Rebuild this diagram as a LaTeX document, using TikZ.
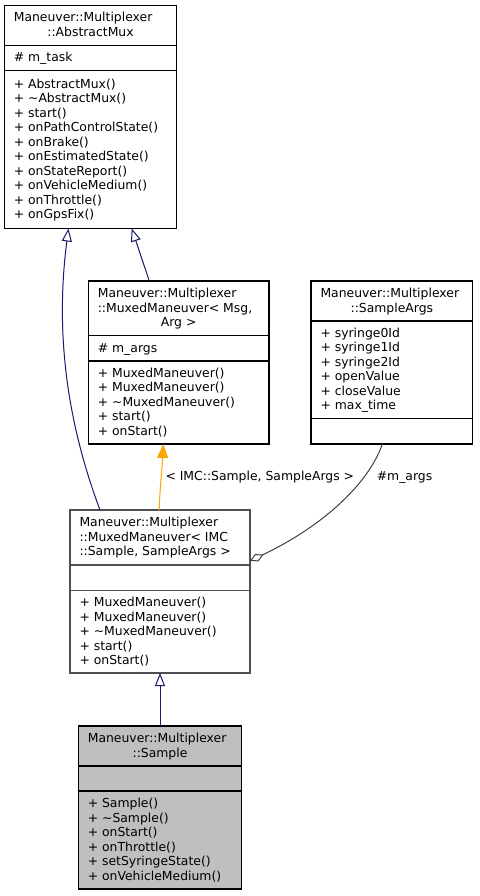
\documentclass[tikz,border=0pt]{standalone}
\usepackage{fontspec}
\setmainfont{DejaVu Sans}
\usetikzlibrary{arrows.meta}
\definecolor{navyedge}{RGB}{25,25,112}
\definecolor{orangeedge}{RGB}{255,165,0}
\definecolor{usageedge}{RGB}{64,64,64}
\definecolor{grayfill}{RGB}{191,191,191}
\definecolor{grayborder}{RGB}{80,80,80}
\newcommand{\mlines}[1]{\begin{tabular}[t]{@{}l@{}}#1\end{tabular}}
\begin{document}
\begin{tikzpicture}[x=1pt,y=-1pt,
  sec/.style={draw=black, line width=1.1pt, fill=white, rectangle, inner sep=0pt, outer sep=0pt, anchor=north west},
  graysec/.style={sec, draw=grayborder},
  hisec/.style={sec, fill=grayfill},
  txt/.style={inner sep=0pt, outer sep=0pt, font=\fontsize{12.4}{14.5}\selectfont},
  lt/.style={txt, anchor=base west},
  ct/.style={txt, anchor=base},
  inherit/.style={draw=navyedge, line width=1pt, -{Triangle[open, length=13pt, width=10pt]}},
  templ/.style={draw=orangeedge, line width=1pt, -{Triangle[length=14pt, width=11pt, fill=orangeedge]}},
  usage/.style={draw=usageedge, line width=1pt, -{Diamond[open, length=15pt, width=8pt, fill=white]}},
  elabel/.style={txt, anchor=base west}]
\useasboundingbox (0,0) rectangle (479,896);
\fill[white] (0,0) rectangle (479,896);

% ---- Box 1: AbstractMux
\node[sec, minimum width=172.4pt, minimum height=39.8pt] (b1t) at (4.3,5.5) {};
\node[sec, minimum width=172.4pt, minimum height=25.5pt] (b1a) at (4.3,45.3) {};
\node[sec, minimum width=172.4pt, minimum height=157.7pt] (b1m) at (4.3,70.8) {};
\node[lt] (b1t1) at (13.8,21.95) {Maneuver::Multiplexer};
\node[ct] (b1t2) at (90.5,36.45) {::AbstractMux};
\node[lt] (b1a1) at (13.8,61.85) {\# m\_task};
\node[lt] (b1m1) at (13.8,88.2) {\mlines{+ AbstractMux()\\+ \textasciitilde AbstractMux()\\+ start()\\+ onPathControlState()\\+ onBrake()\\+ onEstimatedState()\\+ onStateReport()\\+ onVehicleMedium()\\+ onThrottle()\\+ onGpsFix()}};

% ---- Box 2: MuxedManeuver< Msg, Arg >
\node[sec, minimum width=180.7pt, minimum height=54.5pt] (b2t) at (88.3,281) {};
\node[sec, minimum width=180.7pt, minimum height=25.5pt] (b2a) at (88.3,335.5) {};
\node[sec, minimum width=180.7pt, minimum height=83pt] (b2m) at (88.3,361) {};
\node[lt] (b2t1) at (97.8,297.55) {\mlines{Maneuver::Multiplexer\\::MuxedManeuver< Msg,}};
\node[ct] (b2t2) at (178.65,326.55) {Arg >};
\node[lt] (b2a1) at (97.8,352.05) {\# m\_args};
\node[lt] (b2m1) at (97.8,377.3) {\mlines{+ MuxedManeuver()\\+ MuxedManeuver()\\+ \textasciitilde MuxedManeuver()\\+ start()\\+ onStart()}};

% ---- Box 3: SampleArgs
\node[sec, minimum width=161.7pt, minimum height=40pt] (b3t) at (311,281) {};
\node[sec, minimum width=161.7pt, minimum height=97.7pt] (b3a) at (311,321) {};
\node[sec, minimum width=161.7pt, minimum height=25.3pt] (b3m) at (311,418.7) {};
\node[lt] (b3t1) at (320.5,297.55) {Maneuver::Multiplexer};
\node[ct] (b3t2) at (391.85,312.05) {::SampleArgs};
\node[lt] (b3a1) at (320.5,337.4) {\mlines{+ syringe0Id\\+ syringe1Id\\+ syringe2Id\\+ openValue\\+ closeValue\\+ max\_time}};

% ---- Box 4: MuxedManeuver< IMC::Sample, SampleArgs >
\node[graysec, minimum width=180pt, minimum height=55pt] (b4t) at (70,510) {};
\node[graysec, minimum width=180pt, minimum height=25.5pt] (b4a) at (70,565) {};
\node[graysec, minimum width=180pt, minimum height=82.5pt] (b4m) at (70,590.5) {};
\node[lt] (b4t1) at (79.5,526.8) {\mlines{Maneuver::Multiplexer\\::MuxedManeuver< IMC\\::Sample, SampleArgs >}};
\node[lt] (b4m1) at (79.5,606.55) {\mlines{+ MuxedManeuver()\\+ MuxedManeuver()\\+ \textasciitilde MuxedManeuver()\\+ start()\\+ onStart()}};

% ---- Box 5: Sample
\node[hisec, minimum width=163.4pt, minimum height=40pt] (b5t) at (78.3,726) {};
\node[hisec, minimum width=163.4pt, minimum height=25pt] (b5a) at (78.3,766) {};
\node[hisec, minimum width=163.4pt, minimum height=98pt] (b5m) at (78.3,791) {};
\node[lt] (b5t1) at (87.8,742.55) {Maneuver::Multiplexer};
\node[ct] (b5t2) at (160,757.05) {::Sample};
\node[lt] (b5m1) at (87.8,807.55) {\mlines{+ Sample()\\+ \textasciitilde Sample()\\+ onStart()\\+ onThrottle()\\+ setSyringeState()\\+ onVehicleMedium()}};

% ---- Connectors
\draw[inherit] (100,0 |- b4t.north) .. controls (70,430) and (54,340) .. (68.5,0 |- b1m.south);
\draw[inherit] (149.3,0 |- b2t.north) -- (131.7,0 |- b1m.south);
\draw[templ] (159.3,0 |- b4t.north) .. controls (159.6,490) and (162,470) .. (163.3,0 |- b2m.south);
\draw[usage] (382.3,0 |- b3m.south) .. controls (372,475) and (335,520) .. (b4t.east |- 0,561);
\draw[inherit] (160,0 |- b5t.north) -- (160,0 |- b4m.south);

% ---- Edge labels
\node[elabel] (lbl1) at (165.5,480.5) {< IMC::Sample, SampleArgs >};
\node[elabel] (lbl2) at (376.8,480.5) {\#m\_args};
\end{tikzpicture}
\end{document}
